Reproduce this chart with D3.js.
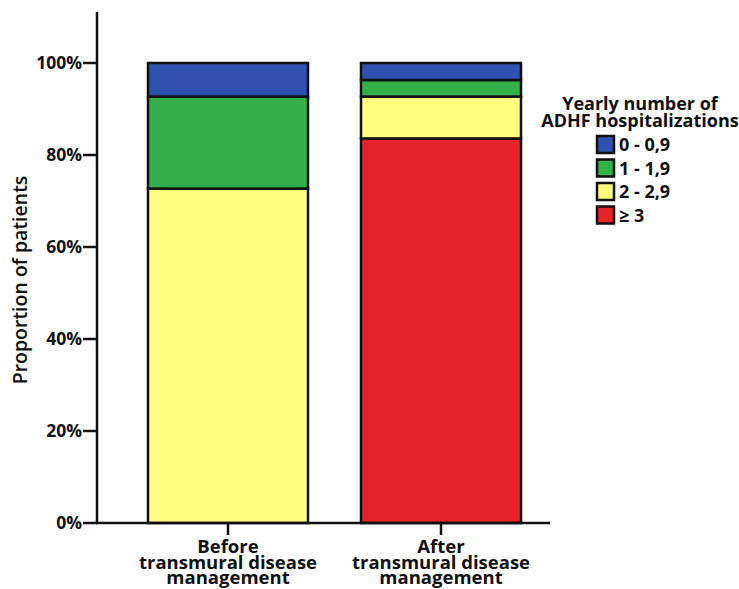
<!DOCTYPE html>
<html>
<head>
<meta charset="utf-8">
<script src="https://cdn.jsdelivr.net/npm/d3@7"></script>
<style>
  html, body { margin: 0; padding: 0; background: #fff; }
  svg { display: block; font-family: "Open Sans", "DejaVu Sans", sans-serif; }
</style>
</head>
<body>
<svg id="chart" width="739" height="589"></svg>
<script>
// Groups on the x axis (each label split over lines)
const groups = ["Before", "After"];
const groupLabels = [
  ["Before", "transmural disease", "management"],
  ["After", "transmural disease", "management"]
];

// Hospitalization classes, stacked bottom to top
const classes = ["≥ 3", "2 - 2,9", "1 - 1,9", "0 - 0,9"];
const classColors = ["#e4232b", "#ffff80", "#33b04a", "#3050b0"];

// Proportion of patients (%) per class, in the order of `classes`
const beforeValues = [0, 72.7, 20.0, 7.3];
const afterValues = [83.6, 9.1, 3.6, 3.7];

const yTicks = [0, 20, 40, 60, 80, 100];
const legendTitle = ["Yearly number of", "ADHF hospitalizations"];
const yTitle = "Proportion of patients";

const svg = d3.select("#chart");

const x0 = 97, xEnd = 550, yBase = 523, yTop = 12;

const y = d3.scaleLinear().domain([0, 100]).range([yBase, 63]);
const gap = 53 / 213;
const x = d3.scaleBand().domain(groups).range([121.5, 547.5])
  .paddingInner(gap).paddingOuter(gap / 2);

const rows = groups.map((g, i) => {
  const vals = i === 0 ? beforeValues : afterValues;
  const r = { group: g };
  classes.forEach((c, j) => r[c] = vals[j]);
  return r;
});
const stacked = d3.stack().keys(classes)(rows);

// Bars
const layer = svg.append("g");
stacked.forEach((s, k) => {
  layer.selectAll(null).data(s).enter().append("rect")
    .filter(d => d[1] - d[0] > 0)
    .attr("x", d => x(d.data.group))
    .attr("width", x.bandwidth())
    .attr("y", d => y(d[1]))
    .attr("height", d => y(d[0]) - y(d[1]))
    .attr("fill", classColors[k])
    .attr("stroke", "#111")
    .attr("stroke-width", 2.5);
});

// Y axis
const yAxis = svg.append("g").attr("transform", `translate(${x0},0)`);
yAxis.append("line").attr("x1", 0).attr("x2", 0).attr("y1", yTop).attr("y2", yBase)
  .attr("stroke", "#111").attr("stroke-width", 2.5);
yTicks.forEach(t => {
  yAxis.append("line").attr("x1", -14).attr("x2", 0).attr("y1", y(t)).attr("y2", y(t))
    .attr("stroke", "#111").attr("stroke-width", 2.5);
  yAxis.append("text").attr("x", -15).attr("y", y(t)).attr("dy", "0.36em")
    .attr("text-anchor", "end").attr("font-size", 17.5).attr("font-weight", 700)
    .attr("fill", "#111").text(t + "%");
});

// X axis
svg.append("line").attr("x1", x0 - 1).attr("x2", xEnd).attr("y1", yBase).attr("y2", yBase)
  .attr("stroke", "#111").attr("stroke-width", 2.5);
groups.forEach((g, i) => {
  const cx = x(g) + x.bandwidth() / 2;
  svg.append("line").attr("x1", cx).attr("x2", cx).attr("y1", yBase).attr("y2", yBase + 12)
    .attr("stroke", "#111").attr("stroke-width", 2.5);
  const t = svg.append("text").attr("text-anchor", "middle").attr("font-size", 18.5)
    .attr("font-weight", 700).attr("fill", "#111");
  groupLabels[i].forEach((line, k) => {
    t.append("tspan").attr("x", cx).attr("y", 553 + k * 15.5).text(line);
  });
});

// Y title
svg.append("text")
  .attr("transform", `translate(27,280) rotate(-90)`)
  .attr("text-anchor", "middle").attr("font-size", 19.5).attr("font-weight", 600)
  .attr("fill", "#111").text(yTitle);

// Legend
const lg = svg.append("g");
legendTitle.forEach((line, k) => {
  lg.append("text").attr("x", 640).attr("y", 110 + k * 17).attr("text-anchor", "middle")
    .attr("font-size", 18).attr("font-weight", 700).attr("fill", "#111").text(line);
});
const legendOrder = [3, 2, 1, 0];
legendOrder.forEach((ci, k) => {
  const yy = 136 + k * 23.5;
  lg.append("rect").attr("x", 597).attr("y", yy).attr("width", 17).attr("height", 17)
    .attr("fill", classColors[ci]).attr("stroke", "#111").attr("stroke-width", 2.5);
  lg.append("text").attr("x", 619).attr("y", yy + 9).attr("dy", "0.36em")
    .attr("font-size", 18).attr("font-weight", 700).attr("fill", "#111").text(classes[ci]);
});
</script>
</body>
</html>
